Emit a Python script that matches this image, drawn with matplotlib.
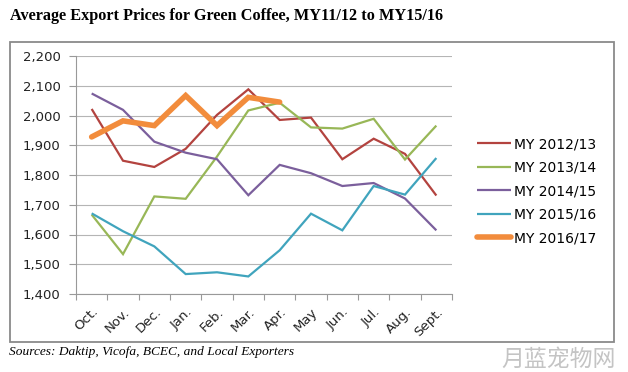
import matplotlib
matplotlib.use("Agg")
import matplotlib.pyplot as plt
from matplotlib.patches import Rectangle

months = ["Oct.", "Nov.", "Dec.", "Jan.", "Feb.", "Mar.", "Apr.", "May", "Jun.", "Jul.", "Aug.", "Sept."]
my_2012_13 = [2022, 1848, 1827, 1888, 2002, 2088, 1985, 1993, 1853, 1922, 1871, 1731]
my_2013_14 = [1667, 1534, 1728, 1720, 1862, 2017, 2043, 1960, 1956, 1989, 1852, 1966]
my_2014_15 = [2074, 2019, 1912, 1875, 1853, 1732, 1834, 1806, 1763, 1773, 1721, 1614]
my_2015_16 = [1671, 1611, 1560, 1467, 1473, 1459, 1547, 1670, 1614, 1763, 1734, 1857]
my_2016_17 = [1928, 1982, 1966, 2067, 1966, 2061, 2045]
y_ticks = [1400, 1500, 1600, 1700, 1800, 1900, 2000, 2100, 2200]

series = [
    ("MY 2012/13", my_2012_13, "#B3433F", 1.6),
    ("MY 2013/14", my_2013_14, "#98B757", 1.6),
    ("MY 2014/15", my_2014_15, "#7B5F9C", 1.6),
    ("MY 2015/16", my_2015_16, "#40A4BD", 1.6),
    ("MY 2016/17", my_2016_17, "#F28C3C", 4.0),
]

fig = plt.figure(figsize=(6.28, 3.72), dpi=100)
ax = fig.add_axes([76 / 628, 1 - 294 / 372, (452 - 76) / 628, (294 - 56) / 372])

# chart frame
fig.patches.append(Rectangle((9.5 / 628, 1 - 342 / 372), (614 - 9.5) / 628, (342 - 42) / 372,
                             transform=fig.transFigure, fill=False, edgecolor="#8a8a8a", lw=1.3))

for name, vals, color, lw in series:
    ax.plot(range(len(vals)), vals, color=color, lw=lw, label=name,
            solid_capstyle="round" if lw > 2 else "butt", solid_joinstyle="miter")

ax.set_xlim(-0.5, 11.5)
ax.set_ylim(1400, 2200)
ax.set_yticks(y_ticks)
ax.set_yticklabels([f"{v:,}" for v in y_ticks], fontsize=9.5, family="DejaVu Sans", color="#222222")
ax.grid(axis="y", color="#b5b5b5", lw=0.8)
ax.set_axisbelow(True)

ax.set_xticks([i + 0.5 for i in range(-1, 12)], minor=False)
ax.set_xticklabels([])
ax.set_xticks(range(12), minor=True)
ax.set_xticklabels(months, minor=True, rotation=45, ha="right", va="top", rotation_mode="anchor",
                   fontsize=9.5, family="DejaVu Sans", color="#222222")
ax.tick_params(axis="x", which="major", direction="out", length=4, color="#999999")
ax.tick_params(axis="x", which="minor", length=0, pad=8)
ax.tick_params(axis="y", direction="out", length=5, color="#999999", pad=6)

for side in ["top", "right"]:
    ax.spines[side].set_visible(False)
ax.spines["left"].set_color("#999999")
ax.spines["bottom"].set_color("#999999")

fig.legend(loc="upper left", bbox_to_anchor=(477 / 628, 1 - 137 / 372), frameon=False,
           prop={"family": "DejaVu Sans", "size": 10}, handlelength=2.45, handletextpad=0.2,
           labelspacing=0.69, borderpad=0, borderaxespad=0)

fig.text(10 / 628, 1 - 16 / 372, "Average Export Prices for Green Coffee, MY11/12 to MY15/16",
         family="Liberation Serif", weight="bold", fontsize=11.7, va="center", ha="left")
fig.text(9 / 628, 1 - 352 / 372, "Sources: Daktip, Vicofa, BCEC, and Local Exporters",
         family="Liberation Serif", style="italic", fontsize=9.6, va="center", ha="left")
fig.text(616 / 628, 1 - 359 / 372, "月蓝宠物网", family=["Noto Sans CJK SC", "DejaVu Sans"],
         fontsize=16.5, color="#c4c4c4", va="center", ha="right")

fig.savefig("out.png", dpi=100)
